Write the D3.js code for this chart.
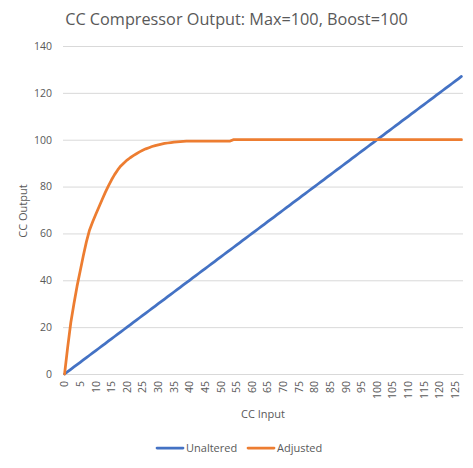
<!DOCTYPE html>
<html><head><meta charset="utf-8">
<script src="https://cdn.jsdelivr.net/npm/d3@7"></script>
<style>body{margin:0;background:#fff;} text{font-family:"Open Sans",sans-serif;fill:#595959;}</style>
</head><body>
<svg id="c" width="473" height="468"></svg>
<script>
const title = "CC Compressor Output: Max=100, Boost=100";
const xTitle = "CC Input";
const yTitle = "CC Output";
const seriesNames = ["Unaltered", "Adjusted"];
const seriesColors = ["#4472C4", "#ED7D31"];
const categories = [0,1,2,3,4,5,6,7,8,9,10,11,12,13,14,15,16,17,18,19,20,21,22,23,24,25,26,27,28,29,30,31,32,33,34,35,36,37,38,39,40,41,42,43,44,45,46,47,48,49,50,51,52,53,54,55,56,57,58,59,60,61,62,63,64,65,66,67,68,69,70,71,72,73,74,75,76,77,78,79,80,81,82,83,84,85,86,87,88,89,90,91,92,93,94,95,96,97,98,99,100,101,102,103,104,105,106,107,108,109,110,111,112,113,114,115,116,117,118,119,120,121,122,123,124,125,126,127];
const unaltered = [0,1,2,3,4,5,6,7,8,9,10,11,12,13,14,15,16,17,18,19,20,21,22,23,24,25,26,27,28,29,30,31,32,33,34,35,36,37,38,39,40,41,42,43,44,45,46,47,48,49,50,51,52,53,54,55,56,57,58,59,60,61,62,63,64,65,66,67,68,69,70,71,72,73,74,75,76,77,78,79,80,81,82,83,84,85,86,87,88,89,90,91,92,93,94,95,96,97,98,99,100,101,102,103,104,105,106,107,108,109,110,111,112,113,114,115,116,117,118,119,120,121,122,123,124,125,126,127];
const adjusted = [0,11.5,22,30,37.5,44,50.5,56.5,61.5,65,68.2,71.3,74.4,77.4,80.2,82.8,85.1,87.1,88.8,90.1,91.3,92.3,93.2,94,94.8,95.5,96.1,96.6,97.1,97.5,97.8,98.1,98.4,98.6,98.8,99,99.1,99.2,99.3,99.35,99.4,99.4,99.4,99.4,99.4,99.4,99.4,99.4,99.4,99.4,99.4,99.4,99.4,99.4,100,100,100,100,100,100,100,100,100,100,100,100,100,100,100,100,100,100,100,100,100,100,100,100,100,100,100,100,100,100,100,100,100,100,100,100,100,100,100,100,100,100,100,100,100,100,100,100,100,100,100,100,100,100,100,100,100,100,100,100,100,100,100,100,100,100,100,100,100,100,100,100,100,100];
const yTicks = [0,20,40,60,80,100,120,140];
const xTickLabels = [0,5,10,15,20,25,30,35,40,45,50,55,60,65,70,75,80,85,90,95,100,105,110,115,120,125];

const svg = d3.select("#c");
const L = 63, R = 463, T = 46, B = 374;
const x = d3.scaleBand().domain(categories).range([L, R]);
const xc = d => x(d) + x.bandwidth() / 2;
const y = d3.scaleLinear().domain([0, 140]).range([B, T]);

// gridlines
const yAxis = d3.axisLeft(y).tickValues(yTicks).tickSize(-(R - L)).tickPadding(10);
const gy = svg.append("g").attr("transform", `translate(${L},0)`).call(yAxis);
gy.select(".domain").remove();
gy.selectAll(".tick line").attr("stroke", "#D9D9D9").attr("stroke-width", 1);
gy.selectAll(".tick text").style("font-size", "10.5px").attr("x", -11);

// x axis
const xAxis = d3.axisBottom(x).tickValues(xTickLabels).tickSize(0).tickPadding(0);
const gx = svg.append("g").attr("transform", `translate(0,${B})`).call(xAxis);
gx.select(".domain").attr("stroke", "#D9D9D9");
gx.selectAll(".tick text").style("font-size", "10.5px")
  .attr("text-anchor", "end").attr("dy", "0.35em")
  .attr("transform", "translate(0,7) rotate(-90)").attr("y", 0).attr("x", 0);

// lines
const line = d3.line().x((d, i) => xc(categories[i])).y(d => y(d));
[unaltered, adjusted].forEach((s, k) => {
  svg.append("path").datum(s).attr("d", line).attr("fill", "none")
    .attr("stroke", seriesColors[k]).attr("stroke-width", 2.75)
    .attr("stroke-linejoin", "round").attr("stroke-linecap", "round");
});

// title
const tt = svg.append("text").attr("x", 236.5).attr("y", 25).attr("text-anchor", "middle")
  .style("font-size", "17px").text(title);
const w = tt.node().getComputedTextLength();
tt.style("font-size", (17 * 343 / w) + "px");

svg.append("text").attr("x", 263).attr("y", 418).attr("text-anchor", "middle")
  .style("font-size", "11px").text(xTitle);
svg.append("text").attr("transform", "translate(27,211) rotate(-90)").attr("text-anchor", "middle")
  .style("font-size", "11px").text(yTitle);

// legend
const legX = [157, 248];
seriesNames.forEach((n, k) => {
  svg.append("line").attr("x1", legX[k]).attr("x2", legX[k] + 26).attr("y1", 448).attr("y2", 448)
    .attr("stroke", seriesColors[k]).attr("stroke-width", 2.75).attr("stroke-linecap", "round");
  svg.append("text").attr("x", legX[k] + 29).attr("y", 448).attr("dy", "0.35em")
    .style("font-size", "11px").text(n);
});
</script>
</body></html>
